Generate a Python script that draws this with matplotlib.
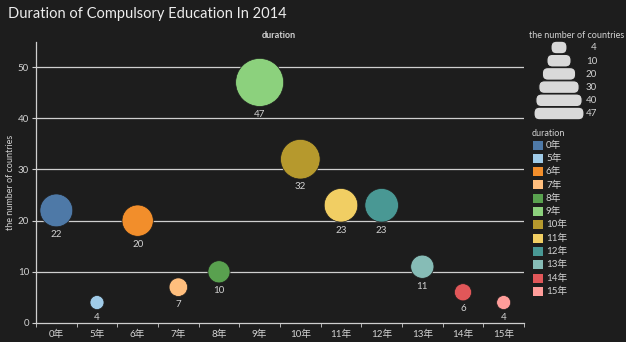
import matplotlib
matplotlib.use('Agg')
import matplotlib.pyplot as plt
from matplotlib.patches import FancyBboxPatch, Rectangle
import numpy as np

# data
durations = ['0年', '5年', '6年', '7年', '8年', '9年', '10年', '11年', '12年', '13年', '14年', '15年']
countries = [22, 4, 20, 7, 10, 47, 32, 23, 23, 11, 6, 4]
colors = ['#4e79a7', '#a0cbe8', '#f28e2b', '#ffbe7d', '#59a14f', '#8cd17d',
          '#b6992d', '#f1ce63', '#499894', '#86bcb6', '#e15759', '#ff9d9a']
size_steps = [4, 10, 20, 30, 40, 47]
y_ticks = [0, 10, 20, 30, 40, 50]

bg = '#1d1d1d'
fg = '#d2d2d2'
fonts = ['Lato', 'Noto Sans CJK SC', 'DejaVu Sans']
plt.rcParams['font.family'] = fonts

W, H = 626, 342
fig = plt.figure(figsize=(W / 100, H / 100), dpi=100, facecolor=bg)

# main axes (pixel box: x 36..524, y 42..323)
ax = fig.add_axes([36 / W, (H - 323) / H, 488 / W, 281 / H], facecolor=bg)

# bubble diameter: 48px for the largest value, area ~ value
px2pt = 72 / 100
max_d = 48
def diam_px(v):
    return max_d * np.sqrt(v / max(countries))

x = np.arange(len(durations))
sizes = [(diam_px(v) * px2pt) ** 2 for v in countries]

for yv in y_ticks[1:]:
    ax.axhline(yv, color='#cfcfcf', lw=0.9, zorder=1)

ax.scatter(x, countries, s=sizes, c=colors, zorder=3, edgecolors=bg, linewidths=0.5)

for xi, v in zip(x, countries):
    r_pt = diam_px(v) * px2pt / 2
    ax.annotate(str(v), (xi, v), xytext=(0, -(r_pt + 2.5)), textcoords='offset points',
                ha='center', va='top', color=fg, fontsize=7)

ax.set_xlim(-0.5, len(durations) - 0.5)
ax.set_ylim(0, 54.9)
ax.set_xticks(x)
ax.set_xticklabels(durations, color=fg, fontsize=7)
ax.set_xticks(np.arange(-0.5, len(durations)), minor=True)
ax.tick_params(axis='x', which='major', length=0, pad=5)
ax.tick_params(axis='x', which='minor', length=3, color='#cfcfcf', direction='out')
ax.set_yticks(y_ticks)
ax.set_yticklabels([str(t) for t in y_ticks], color=fg, fontsize=7)
ax.tick_params(axis='y', length=3, color='#cfcfcf', pad=2)
for s in ['top', 'right']:
    ax.spines[s].set_visible(False)
for s in ['left', 'bottom']:
    ax.spines[s].set_color('#cfcfcf')
    ax.spines[s].set_linewidth(0.9)

# overlay in pixel coordinates for title and legends
ov = fig.add_axes([0, 0, 1, 1], facecolor='none')
ov.set_xlim(0, W)
ov.set_ylim(H, 0)
ov.axis('off')

ov.text(8, 14, 'Duration of Compulsory Education In 2014', color='#ececec',
        fontsize=10.5, va='center', ha='left')
ov.text(279, 35, 'duration', color=fg, fontsize=6.5, ha='center', va='center', fontweight='bold')
ov.text(11, 182, 'the number of countries', color=fg, fontsize=6.5, ha='center',
        va='center', rotation=90)

# size legend
ov.text(577, 35, 'the number of countries', color=fg, fontsize=6.5, ha='center', va='center')
for i, v in enumerate(size_steps):
    w = diam_px(v) + 2
    yc = 47.5 + i * 13.2
    ov.add_patch(FancyBboxPatch((559 - w / 2, yc - 6.3), w, 12.6,
                                boxstyle='round,pad=0,rounding_size=5.5',
                                fc='#d9d9d9', ec=bg, lw=0.8, zorder=2 + i))
    ov.text(597, yc + 0.5, str(v), color=fg, fontsize=7, ha='right', va='center')

# colour legend
ov.text(532, 133, 'duration', color=fg, fontsize=6.5, ha='left', va='center')
for i, (lab, col) in enumerate(zip(durations, colors)):
    yc = 145 + i * 13.3
    ov.add_patch(Rectangle((533, yc - 4.5), 10, 9, fc=col, ec='none'))
    ov.text(546, yc, lab, color=fg, fontsize=7, ha='left', va='center')

fig.savefig('out.png', dpi=100, facecolor=bg)
